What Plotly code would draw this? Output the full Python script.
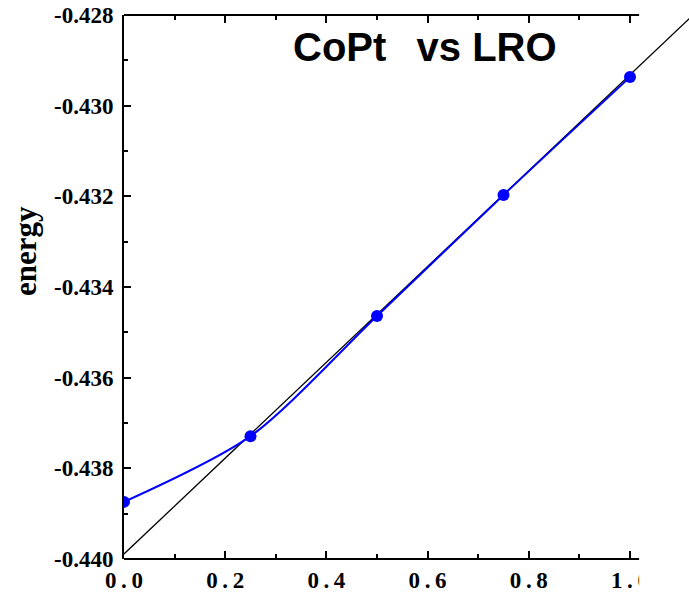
import plotly.graph_objects as go

# ---- data ----
lro = [0.0, 0.25, 0.5, 0.75, 1.0]
energy = [-0.43874, -0.43729, -0.43464, -0.43197, -0.42937]
ref_x = [0.0, 1.12]
ref_y = [-0.43989, -0.42805]
x_tickvals = [0.0, 0.2, 0.4, 0.6, 0.8, 1.0]
x_ticktext = ["0\u2009.\u20090", "0\u2009.\u20092", "0\u2009.\u20094", "0\u2009.\u20096", "0\u2009.\u20098", "1\u2009.\u20090"]
x_minor = [0.1, 0.3, 0.5, 0.7, 0.9]
y_tickvals = [-0.440, -0.438, -0.436, -0.434, -0.432, -0.430, -0.428]
y_ticktext = ["-0.440", "-0.438", "-0.436", "-0.434", "-0.432", "-0.430", "-0.428"]
y_minor = [-0.439, -0.437, -0.435, -0.433, -0.431, -0.429]

W, H = 689, 594
L, R, T, B = 124, 0, 15, 35
x_end = 1.018          # right end of the drawn frame
x_max = 1.1166          # right end of plotting range (window edge)

fig = go.Figure()
fig.add_trace(go.Scatter(x=ref_x, y=ref_y, mode="lines",
                         line=dict(color="black", width=1.3), hoverinfo="skip"))
fig.add_trace(go.Scatter(x=lro, y=energy, mode="lines+markers",
                         line=dict(color="#0000ff", width=2, shape="spline", smoothing=0.8),
                         marker=dict(color="#0000ff", size=12)))

xtickfont = dict(family="Liberation Serif", size=23, color="black", weight="bold")
ytickfont = dict(family="Liberation Serif", size=23, color="black", weight="bold")

fig.update_xaxes(range=[0, x_max], showline=False, showgrid=False, zeroline=False,
                 tickmode="array", tickvals=x_tickvals, ticktext=x_ticktext,
                 ticks="inside", ticklen=8, tickwidth=2, tickcolor="black",
                 mirror="ticks", tickfont=xtickfont, ticklabelstandoff=5,
                 minor=dict(tickmode="array", tickvals=x_minor, ticks="inside",
                            ticklen=5, tickwidth=2, tickcolor="black"))
fig.update_yaxes(range=[-0.440, -0.428], showline=True, linewidth=2, linecolor="black",
                 showgrid=False, zeroline=False,
                 tickmode="array", tickvals=y_tickvals, ticktext=y_ticktext,
                 ticks="inside", ticklen=7, tickwidth=2, tickcolor="black",
                 tickfont=ytickfont, ticklabelstandoff=4,
                 minor=dict(tickmode="array", tickvals=y_minor, ticks="inside",
                            ticklen=4, tickwidth=2, tickcolor="black"))

# frame lines (bottom and top) ending at x_end
for yv in (0, 1):
    fig.add_shape(type="line", xref="x", yref="paper", x0=0, x1=x_end, y0=yv, y1=yv,
                  line=dict(color="black", width=2))
# clip the last tick label like the reference
fig.add_shape(type="rect", xref="x", yref="paper", x0=x_end, x1=x_max, y0=-0.01, y1=-0.2,
              fillcolor="white", line=dict(width=0), layer="above")

fig.add_annotation(text="CoPt\u00a0\u00a0\u2009vs LRO", xref="paper", yref="paper",
                   x=(424.5 - L) / (W - L), y=(559 - 47) / (H - T - B),
                   xanchor="center", yanchor="middle", showarrow=False,
                   font=dict(family="Liberation Sans", size=40, color="black", weight="bold"))
fig.add_annotation(text="energy", xref="paper", yref="paper",
                   x=(25 - L) / (W - L), y=(559 - 251) / (H - T - B),
                   xanchor="center", yanchor="middle", showarrow=False, textangle=-90,
                   font=dict(family="Liberation Serif", size=31, color="black", weight="bold"))

fig.update_layout(width=W, height=H, margin=dict(l=L, r=R, t=T, b=B),
                  paper_bgcolor="white", plot_bgcolor="white", showlegend=False)

fig.write_html("out.html")
